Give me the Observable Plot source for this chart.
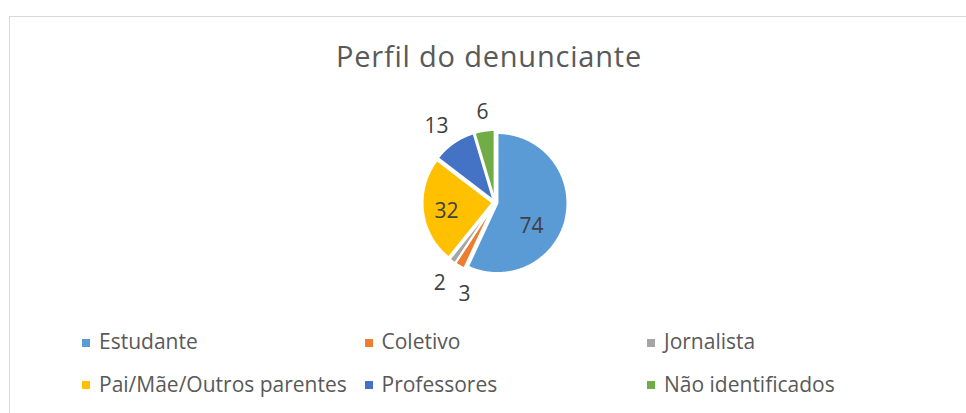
<!DOCTYPE html>
<html>
<head>
<meta charset="utf-8">
<script src="https://cdn.jsdelivr.net/npm/d3@7"></script>
<script src="https://cdn.jsdelivr.net/npm/@observablehq/plot@0.6"></script>
<style>
  html, body { margin: 0; padding: 0; background: #fff; }
  #root { position: relative; width: 966px; height: 413px; overflow: hidden; font-family: "Open Sans", sans-serif; }
  #frame { position: absolute; left: 9px; top: 16px; right: -10px; bottom: -10px; border-top: 1.5px solid #d9d9d9; border-left: 1.5px solid #d9d9d9; }
  #title { position: absolute; left: 489px; top: 41px; transform: translateX(-50%); white-space: nowrap; font-size: 29px; line-height: 29px; letter-spacing: 0.8px; color: #595959; }
  #chart { position: absolute; left: 0; top: 100px; }
  .item { position: absolute; white-space: nowrap; font-size: 21px; line-height: 21px; color: #595959; }
  .sw { position: absolute; width: 8px; height: 8px; }
</style>
</head>
<body>
<div id="root">
  <div id="frame"></div>
  <div id="title">Perfil do denunciante</div>
  <div id="chart"></div>
  <div id="legend"></div>
</div>
<script>
const title = "Perfil do denunciante";
const categories = ["Estudante", "Coletivo", "Jornalista", "Pai/Mãe/Outros parentes", "Professores", "Não identificados"];
const values = [74, 3, 2, 32, 13, 6];
const colors = ["#5B9BD5", "#ED7D31", "#A5A5A5", "#FFC000", "#4472C4", "#70AD47"];

// layout (pixels)
const W = 966, H = 220, TOP = 100;
const R = 70, CX = 494.5, CY = 202 - TOP;
const EXPLODE = 2.5 / R;
// pixel nudges of the data labels (Excel "best fit" placement)
const labelNudge = [[-6, 14.6], [12.7, 13.8], [-3, 8.8], [-5.4, 3.8], [-8, -2.8], [0.3, -2]];

document.getElementById("title").textContent = title;

const data = categories.map((name, i) => ({name, value: values[i], i}));
const arcs = d3.pie().sort(null).value(d => d.value).startAngle(0).endAngle(2 * Math.PI)(data);

const slicePoints = [];
const labels = [];
arcs.forEach(a => {
  const mid = (a.startAngle + a.endAngle) / 2;
  const ox = EXPLODE * Math.sin(mid), oy = -EXPLODE * Math.cos(mid);
  const name = a.data.name;
  slicePoints.push({name, x: ox, y: oy});
  const n = Math.max(4, Math.ceil((a.endAngle - a.startAngle) / (Math.PI / 360)));
  for (let k = 0; k <= n; k++) {
    const t = a.startAngle + (a.endAngle - a.startAngle) * k / n;
    slicePoints.push({name, x: ox + Math.sin(t), y: oy - Math.cos(t)});
  }
  const kk = a.data.value > 20 ? 0.62 : 1.27;
  const [dx, dy] = labelNudge[a.data.i];
  labels.push({text: String(a.data.value), x: kk * Math.sin(mid) + dx / R, y: -kk * Math.cos(mid) + dy / R});
});

const plot = Plot.plot({
  width: W,
  height: H,
  margin: 0,
  x: {domain: [-CX / R, (W - CX) / R], range: [0, W], axis: null},
  y: {domain: [-CY / R, (H - CY) / R], range: [0, H], axis: null},
  color: {domain: categories, range: colors},
  style: {background: "transparent", fontFamily: "Open Sans", overflow: "visible"},
  marks: [
    Plot.line(slicePoints, {x: "x", y: "y", z: "name", fill: "name", stroke: "white", strokeWidth: 2, strokeLinejoin: "miter", curve: "linear-closed"}),
    Plot.text(labels, {x: "x", y: "y", text: "text", fill: "#404040", fontSize: 21})
  ]
});
document.getElementById("chart").appendChild(plot);

// legend (3 columns x 2 rows)
const legend = document.getElementById("legend");
categories.forEach((name, i) => {
  const col = i % 3, row = Math.floor(i / 3);
  const left = 82 + col * 282.5;
  const sw = document.createElement("div");
  sw.className = "sw";
  sw.style.left = left + "px";
  sw.style.top = (338.5 + row * 42.5) + "px";
  sw.style.background = colors[i];
  legend.appendChild(sw);
  const t = document.createElement("div");
  t.className = "item";
  t.style.left = (left + 17) + "px";
  t.style.top = (331.3 + row * 42.5) + "px";
  t.textContent = name;
  legend.appendChild(t);
});
</script>
</body>
</html>
